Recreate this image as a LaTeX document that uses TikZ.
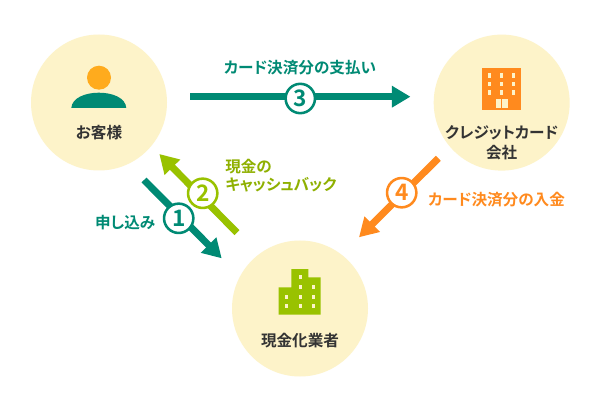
\documentclass[tikz,border=0pt]{standalone}
\usepackage{fontspec}
\setmainfont{Noto Sans CJK JP}[BoldFont={* Bold},RawFeature=+palt]
\usetikzlibrary{arrows.meta}
\definecolor{cream}{HTML}{FDF3C9}
\definecolor{teal}{HTML}{008A74}
\definecolor{leaf}{HTML}{99C200}
\definecolor{leaftext}{HTML}{8FB000}
\definecolor{tang}{HTML}{FF8A1E}
\definecolor{amber}{HTML}{FFAB1D}
\definecolor{ink}{HTML}{333333}
\tikzset{
  x=0.75pt,y=-0.75pt,
  actor/.style={circle,fill=cream,minimum size=102pt,inner sep=0pt},
  lbl/.style={inner sep=0pt,font=\fontsize{11.7pt}{15pt}\selectfont\bfseries},
  name lbl/.style={lbl,text=ink,align=center},
  flow/.style={line width=5.25pt,-{Triangle[length=14pt,width=15.5pt]}},
  numb/.style={circle,draw=#1,fill=white,line width=1.9pt,minimum size=22pt,inner sep=0pt,text=#1,font=\fontsize{17pt}{17pt}\selectfont\bfseries},
}
\begin{document}
\begin{tikzpicture}
\useasboundingbox (0,0) rectangle (600,406);
\fill[white] (0,0) rectangle (600,406);
% actors
\node[actor] (cust) at (99,102.5) {};
\node[actor] (card) at (501.7,102.6) {};
\node[actor] (cash) at (300,308.5) {};
% person icon
\fill[amber] (99,77.7) circle [radius=12];
\fill[teal] (71.3,108) .. controls (72,98) and (85,92.7) .. (98.8,92.7) .. controls (113,92.7) and (125.6,98) .. (126.3,108) -- cycle;
% orange building
\fill[tang] (482.3,68) rectangle (520.7,110);
\foreach \wx in {489.7,501.7,513.3}\foreach \wy in {75.3,84,92.7}
  \fill[cream] (\wx-1.5,\wy-2.4) rectangle (\wx+1.5,\wy+2.4);
\fill[cream] (495.7,99.3) rectangle (501.2,108);
\fill[cream] (502.2,99.3) rectangle (507.7,108);
% green building
\fill[leaf] (278.7,314.7) -- (278.7,287.3) -- (291.3,287.3) -- (291.3,269) -- (308.3,269) -- (308.3,277.3) -- (320.7,277.3) -- (320.7,314.7) -- cycle;
\foreach \wx/\wy in {300/277,300/286.7,313.3/286.7,286.3/296.7,300/296.7,313.3/296.7,286.3/306.3,300/306.3,313.3/306.3}
  \fill[cream] (\wx-1.5,\wy-2) rectangle (\wx+1.5,\wy+2);
% names
\node[name lbl] (custname) at (99,133) {お客様};
\node[name lbl] (cardname) at (501.7,142.5) {クレジットカード\\会社};
\node[name lbl] (cashname) at (300,341) {現金化業者};
% arrow ends
\coordinate (a1s) at (144,180);   \coordinate (a1e) at (221.7,258.3);
\coordinate (a2s) at (237,232.7); \coordinate (a2e) at (159.3,154);
\coordinate (a3s) at (190,96.7);  \coordinate (a3e) at (410.5,96.7);
\coordinate (a4s) at (438.3,158.3); \coordinate (a4e) at (359,237.3);
\draw[flow,teal] (a1s) -- (a1e);
\draw[flow,leaf] (a2s) -- (a2e);
\draw[flow,teal] (a3s) -- (a3e);
\draw[flow,tang] (a4s) -- (a4e);
% numbers
\node[numb=teal] (n1) at (178.7,218.3) {1};
\node[numb=leaf] (n2) at (202.7,193.3) {2};
\node[numb=teal] (n3) at (300.3,98.5) {3};
\node[numb=tang] (n4) at (401.7,192.7) {4};
% labels
\node[lbl,text=teal] (l3) at (300,67.5) {カード決済分の支払い};
\node[lbl,text=leaftext,anchor=west] (l2a) at (225,166.5) {現金の};
\node[lbl,text=leaftext,anchor=west] (l2b) at (225,184.5) {キャッシュバック};
\node[lbl,text=teal,anchor=east] (l1) at (155.5,222.5) {申し込み};
\node[lbl,text=tang,anchor=west] (l4) at (428,199.7) {カード決済分の入金};
\end{tikzpicture}
\end{document}
